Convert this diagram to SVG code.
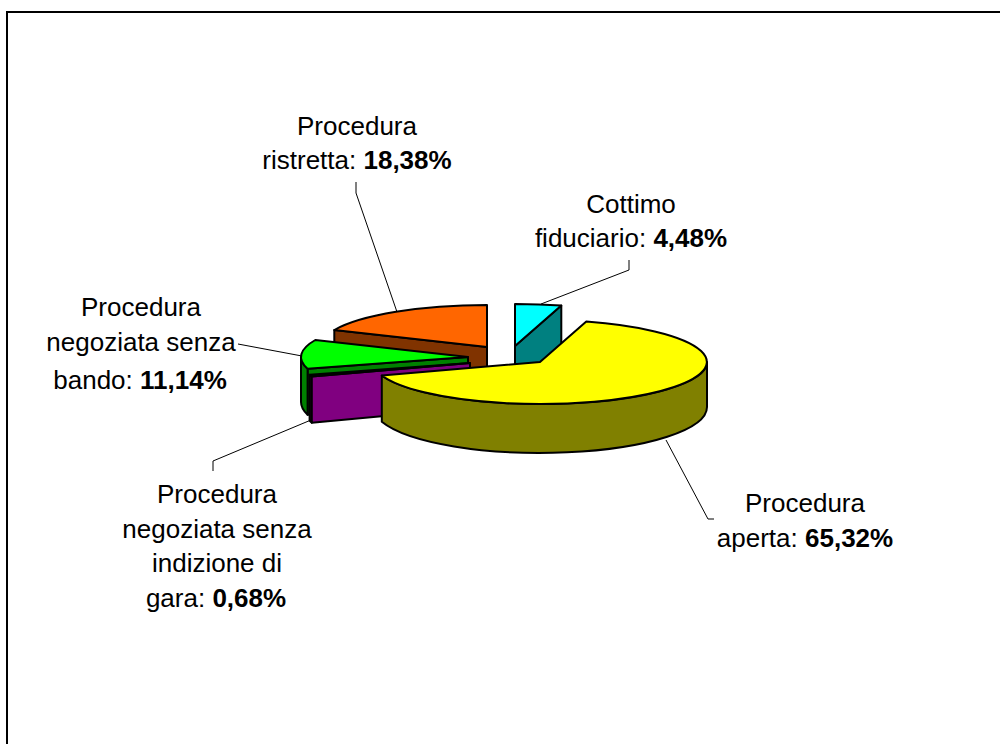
<svg xmlns="http://www.w3.org/2000/svg" width="1000" height="744" viewBox="0 0 1000 744">
<style>
.e{stroke:#000;stroke-width:2;stroke-linejoin:round}
.l{fill:none;stroke:#000;stroke-width:1}
text{font-family:"Liberation Sans",Arial,sans-serif;font-size:26px;fill:#000;text-anchor:middle}
.b{font-weight:bold}
</style>
<rect width="1000" height="744" fill="#fff"/>
<path d="M7,744 L7,12 L1000,12" fill="none" stroke="#000" stroke-width="2"/>
<g id="slice-ristretta">
<path class="e" fill="#803300" d="M334.3,330 L487,347 L487,392 L334.3,373.4 Z"/>
<path class="e" fill="#FF6600" d="M487,347 L334.3,330 A167,42 0 0,1 487,305 Z"/>
</g>
<g id="slice-cottimo">
<path class="e" fill="#008080" d="M515,346 L561.3,305.6 L561.3,346.8 L515,391 Z"/>
<path class="e" fill="#00FFFF" d="M515,346 L515,304 A167,42 0 0,1 561.3,305.6 Z"/>
</g>
<g id="slice-negoziata-bando">
<path class="e" fill="#008000" d="M468,357 L307.6,368.7 L307.6,414.8 L468,402 Z"/>
<path class="e" fill="#008000" d="M307.6,368.7 A167,42 0 0,1 301,357 L301,402 A167,46 0 0,0 307.6,414.8 Z"/>
<path class="e" fill="#00FF00" d="M468,357 L307.6,368.7 A167,42 0 0,1 315.3,340 Z"/>
</g>
<g id="slice-negoziata-gara">
<path class="e" fill="#400040" d="M311.8,376.5 L309.6,374.7 L309.6,420.8 L311.8,422.7 Z"/>
<path class="e" fill="#800080" d="M470,363 L311.8,376.5 L311.8,422.7 L470,408 Z"/>
<path class="e" fill="#800080" d="M470,363 L311.8,376.5 L309.6,374.7 Z"/>
</g>
<g id="slice-aperta">
<path class="e" fill="#808000" d="M707,362 A167,42 0 0,1 381.8,375.5 L381.8,421.7 A167,46 0 0,0 707,407 Z"/>
<path class="e" fill="#FFFF00" d="M540,362 L586.3,321.6 A167,42 0 1,1 381.8,375.5 Z"/>
</g>
<g id="connectors">
<polyline class="l" points="356,182 356,193 397,312"/>
<polyline class="l" points="629,260 629,270 541,304"/>
<polyline class="l" points="238,344 302,356"/>
<polyline class="l" points="213,471 213,461 311,420"/>
<polyline class="l" points="666,440 708,519 714,519"/>
</g>
<g id="label-ristretta">
<text x="357" y="135">Procedura</text>
<text x="357" y="169">ristretta: <tspan class="b">18,38%</tspan></text>
</g>
<g id="label-cottimo">
<text x="631" y="213">Cottimo</text>
<text x="631" y="247">fiduciario: <tspan class="b">4,48%</tspan></text>
</g>
<g id="label-negoziata-bando">
<text x="141" y="316">Procedura</text>
<text x="141" y="351">negoziata senza</text>
<text x="140" y="389">bando: <tspan class="b">11,14%</tspan></text>
</g>
<g id="label-negoziata-gara">
<text x="217" y="503">Procedura</text>
<text x="217" y="538">negoziata senza</text>
<text x="217" y="572">indizione di</text>
<text x="216" y="607">gara: <tspan class="b">0,68%</tspan></text>
</g>
<g id="label-aperta">
<text x="805" y="512">Procedura</text>
<text x="805" y="547">aperta: <tspan class="b">65,32%</tspan></text>
</g>
</svg>
